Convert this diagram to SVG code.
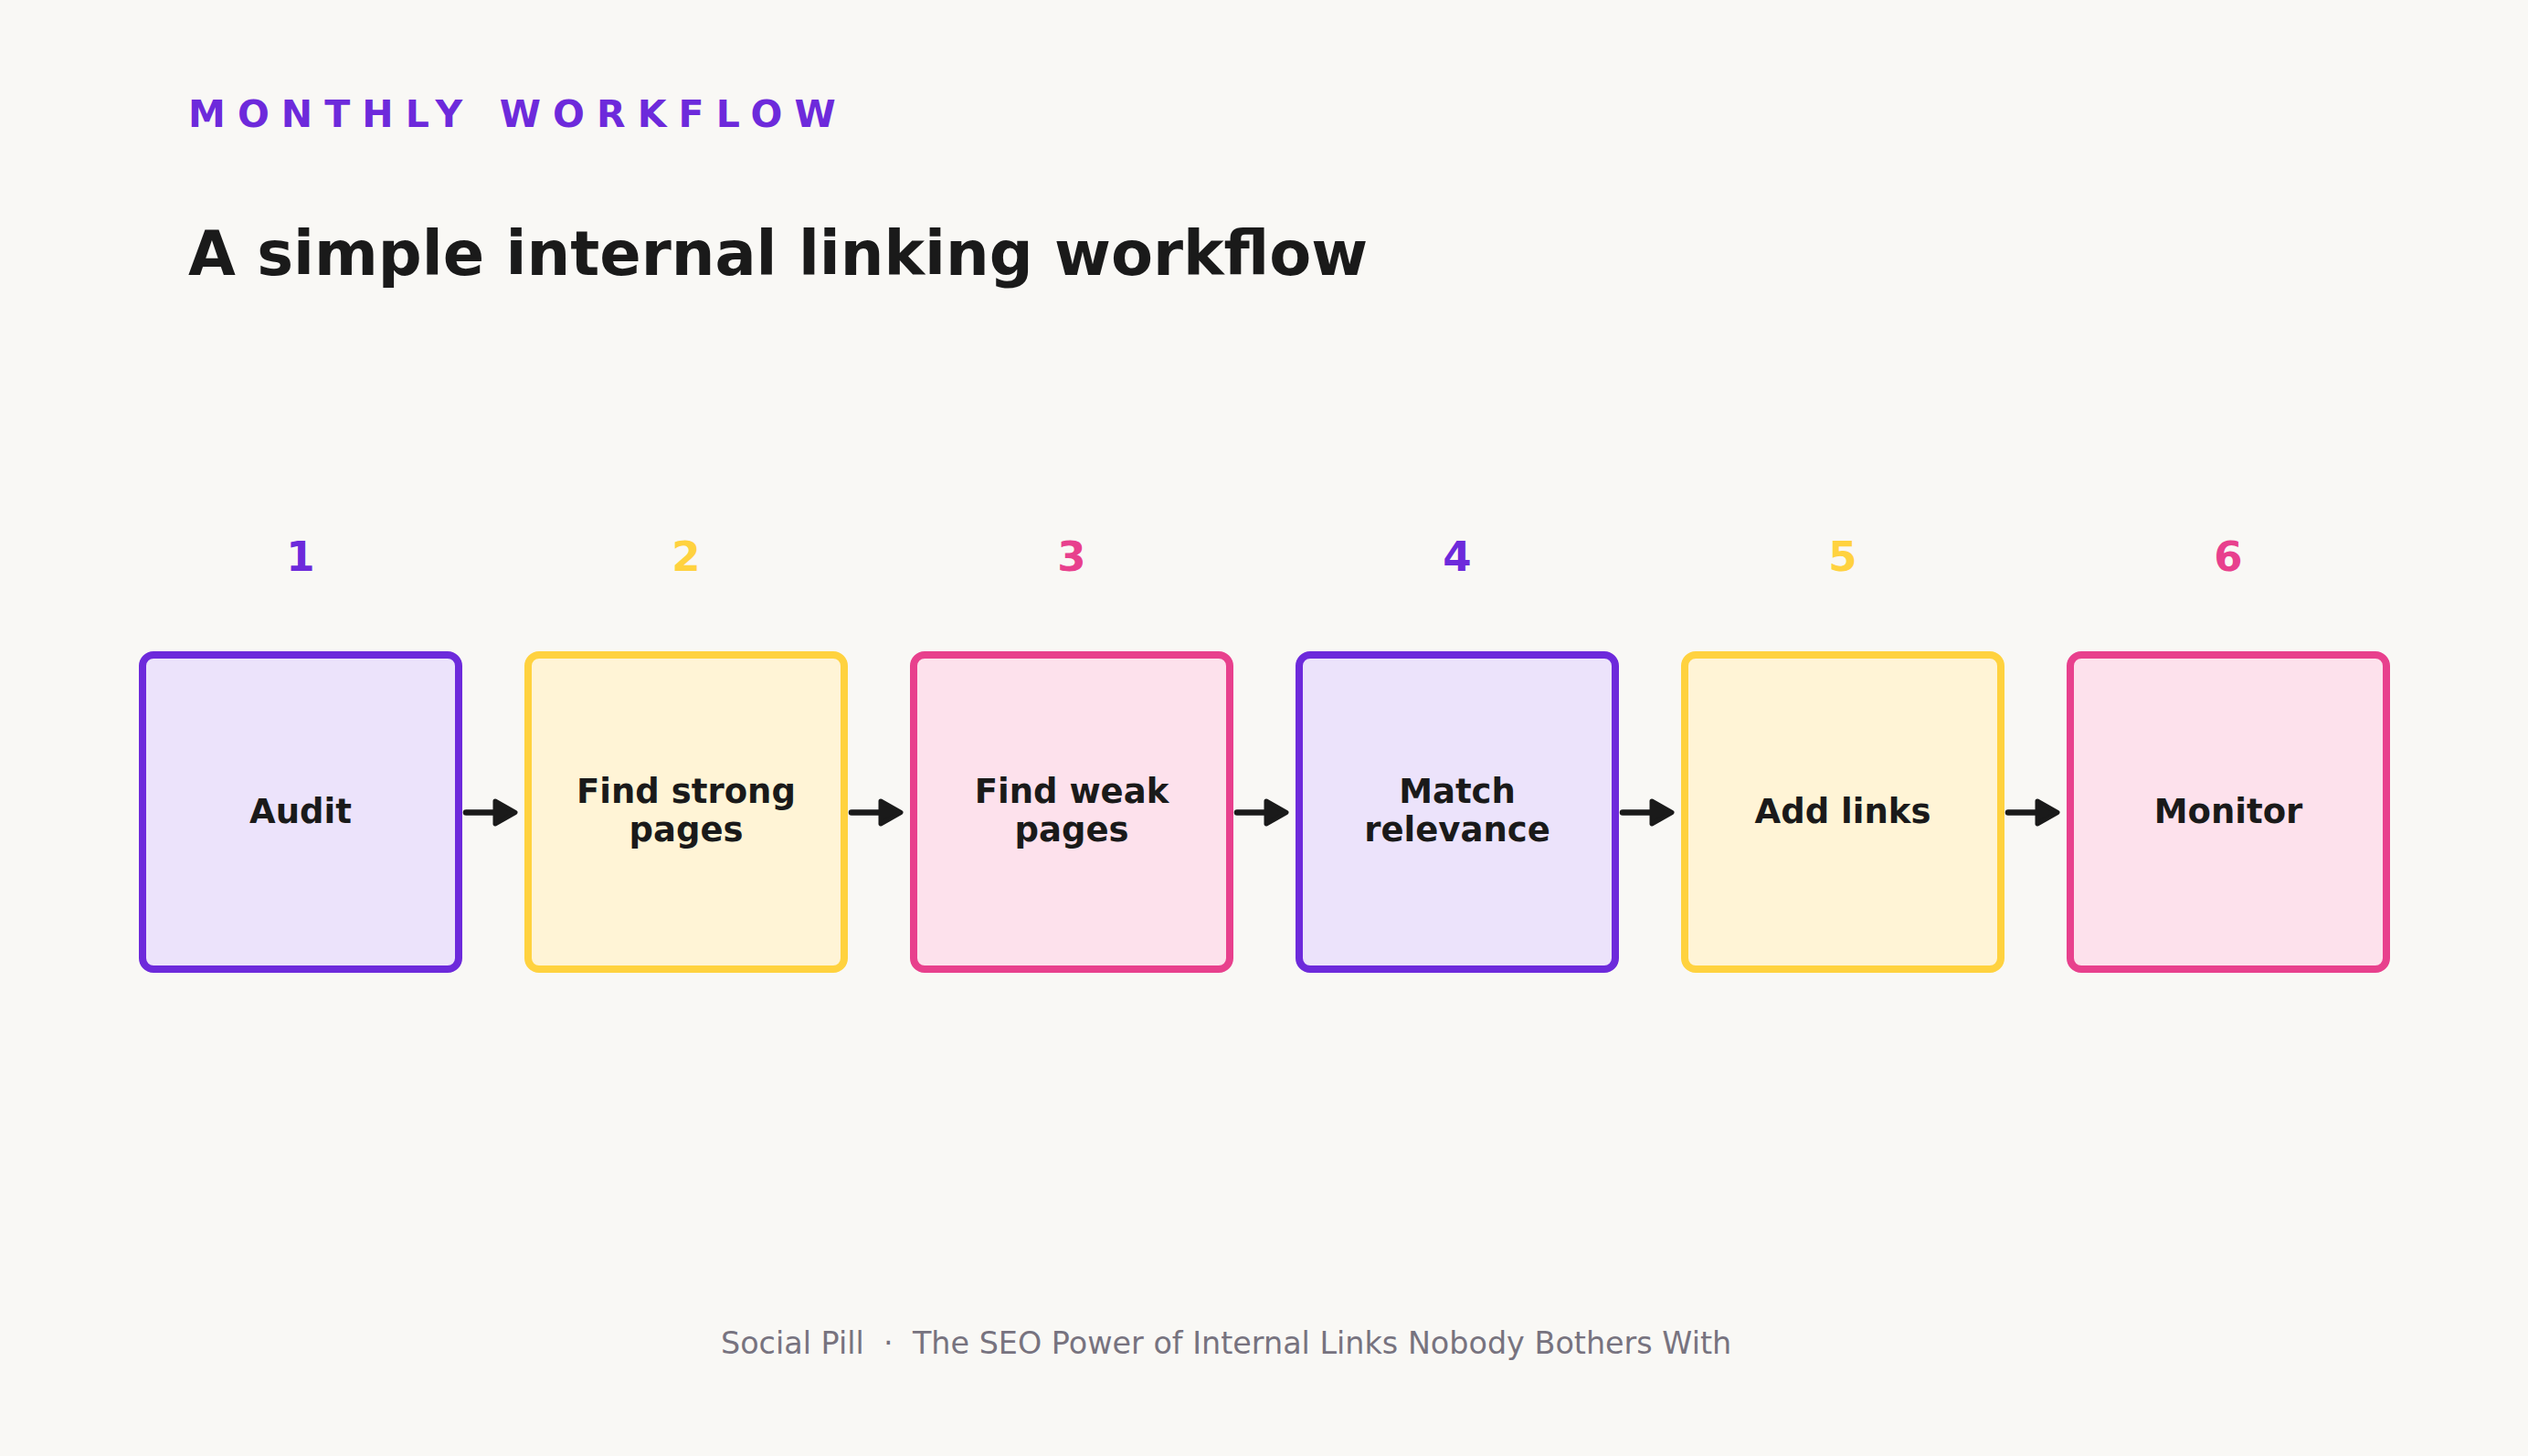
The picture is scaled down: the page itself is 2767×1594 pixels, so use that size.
<svg xmlns="http://www.w3.org/2000/svg" width="2767" height="1594" viewBox="0 0 2767 1594">
  <style>
    .eyebrow { font-family: "DejaVu Sans", "Liberation Sans", sans-serif; font-weight: bold; font-size: 41px; letter-spacing: 13.1px; fill: #6D2ADB; }
    .title { font-family: "DejaVu Sans", "Liberation Sans", sans-serif; font-weight: bold; font-size: 67px; fill: #1A1A1A; }
    .num { font-family: "DejaVu Sans", "Liberation Sans", sans-serif; font-weight: bold; font-size: 45px; text-anchor: middle; }
    .label { font-family: "DejaVu Sans", "Liberation Sans", sans-serif; font-weight: bold; font-size: 37px; fill: #1A1A1A; text-anchor: middle; }
    .footer { font-family: "DejaVu Sans", "Liberation Sans", sans-serif; font-size: 33.4px; fill: #77737F; }
    .box { stroke-width: 8; }
    .purple rect { fill: #ECE3FB; stroke: #6D2ADB; }
    .purple .num { fill: #6D2ADB; }
    .yellow rect { fill: #FFF4D6; stroke: #FFD23F; }
    .yellow .num { fill: #FFD23F; }
    .pink rect { fill: #FDE1EC; stroke: #E8408D; }
    .pink .num { fill: #E8408D; }
    .conn line { stroke: #1A1A1A; stroke-width: 6.5; stroke-linecap: round; marker-end: url(#ah); }
  </style>
  <defs>
    <marker id="ah" markerUnits="userSpaceOnUse" markerWidth="40" markerHeight="40" refX="5" refY="20" orient="auto" overflow="visible">
      <path d="M3,7.5 L25,20 L3,32.5 Z" fill="#1A1A1A" stroke="#1A1A1A" stroke-width="5" stroke-linejoin="round"/>
    </marker>
  </defs>
  <rect x="0" y="0" width="2767" height="1594" fill="#F9F8F5"/>

  <text class="eyebrow" x="206" y="139">MONTHLY WORKFLOW</text>
  <text class="title" x="206" y="301">A simple internal linking workflow</text>

  <g id="node-1" class="purple">
    <text class="num" x="329" y="625">1</text>
    <rect class="box" x="156" y="717" width="346" height="344" rx="12"/>
    <text class="label" x="329" y="901">Audit</text>
  </g>
  <g id="node-2" class="yellow">
    <text class="num" x="751" y="625">2</text>
    <rect class="box" x="578" y="717" width="346" height="344" rx="12"/>
    <text class="label" x="751" y="879">Find strong</text>
    <text class="label" x="751" y="921">pages</text>
  </g>
  <g id="node-3" class="pink">
    <text class="num" x="1173" y="625">3</text>
    <rect class="box" x="1000" y="717" width="346" height="344" rx="12"/>
    <text class="label" x="1173" y="879">Find weak</text>
    <text class="label" x="1173" y="921">pages</text>
  </g>
  <g id="node-4" class="purple">
    <text class="num" x="1595" y="625">4</text>
    <rect class="box" x="1422" y="717" width="346" height="344" rx="12"/>
    <text class="label" x="1595" y="879">Match</text>
    <text class="label" x="1595" y="921">relevance</text>
  </g>
  <g id="node-5" class="yellow">
    <text class="num" x="2017" y="625">5</text>
    <rect class="box" x="1844" y="717" width="346" height="344" rx="12"/>
    <text class="label" x="2017" y="901">Add links</text>
  </g>
  <g id="node-6" class="pink">
    <text class="num" x="2439" y="625">6</text>
    <rect class="box" x="2266" y="717" width="346" height="344" rx="12"/>
    <text class="label" x="2439" y="901">Monitor</text>
  </g>

  <g id="connectors" class="conn">
    <line x1="510" y1="889.5" x2="544" y2="889.5"/>
    <line x1="932" y1="889.5" x2="966" y2="889.5"/>
    <line x1="1354" y1="889.5" x2="1388" y2="889.5"/>
    <line x1="1776" y1="889.5" x2="1810" y2="889.5"/>
    <line x1="2198" y1="889.5" x2="2232" y2="889.5"/>
  </g>

  <text class="footer" x="789" y="1482" xml:space="preserve">Social Pill  ·  The SEO Power of Internal Links Nobody Bothers With</text>
</svg>
